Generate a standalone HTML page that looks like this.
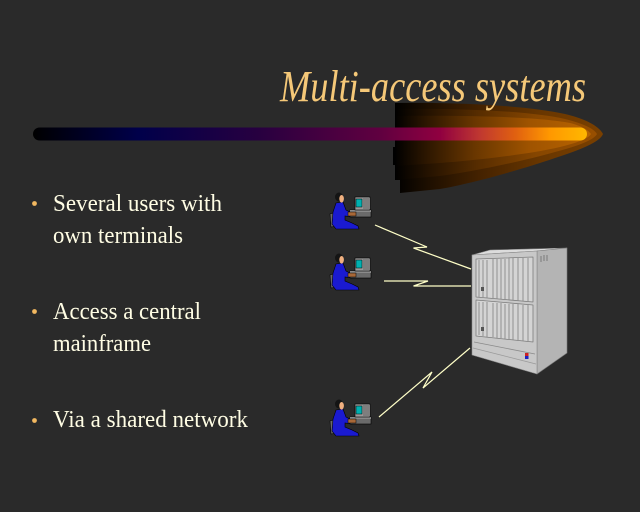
<!DOCTYPE html>
<html><head><meta charset="utf-8"><style>
html,body{margin:0;padding:0;background:#2a2a2a;}
svg{display:block;}
</style></head><body>
<svg width="640" height="512" viewBox="0 0 640 512" xmlns="http://www.w3.org/2000/svg">
<defs>
<linearGradient id="gOut" gradientUnits="userSpaceOnUse" x1="395" y1="0" x2="605" y2="0">
 <stop offset="0" stop-color="#000"/><stop offset="0.15" stop-color="#1c0e00"/><stop offset="0.4" stop-color="#442200"/><stop offset="0.69" stop-color="#683600"/><stop offset="1" stop-color="#7a4000"/>
</linearGradient>
<linearGradient id="gMid" gradientUnits="userSpaceOnUse" x1="395" y1="0" x2="600" y2="0">
 <stop offset="0" stop-color="#000"/><stop offset="0.15" stop-color="#221100"/><stop offset="0.4" stop-color="#562c00"/><stop offset="0.69" stop-color="#864600"/><stop offset="1" stop-color="#9a5000"/>
</linearGradient>
<linearGradient id="gIn" gradientUnits="userSpaceOnUse" x1="395" y1="0" x2="592" y2="0">
 <stop offset="0" stop-color="#000"/><stop offset="0.15" stop-color="#2a1500"/><stop offset="0.4" stop-color="#683600"/><stop offset="0.69" stop-color="#a05400"/><stop offset="1" stop-color="#b86400"/>
</linearGradient>
<linearGradient id="gBar" gradientUnits="userSpaceOnUse" x1="33" y1="0" x2="587" y2="0">
 <stop offset="0" stop-color="#000000"/>
 <stop offset="0.19" stop-color="#00004a"/>
 <stop offset="0.41" stop-color="#280040"/>
 <stop offset="0.626" stop-color="#600040"/>
 <stop offset="0.735" stop-color="#900040"/>
 <stop offset="0.807" stop-color="#c03830"/>
 <stop offset="0.87" stop-color="#e06010"/>
 <stop offset="0.933" stop-color="#ff9800"/>
 <stop offset="1" stop-color="#ffb800"/>
</linearGradient>
<g id="user">
 <path d="M2,24 L8,22 L9,36 L3,37 Z" fill="#6a6a6a" stroke="#000" stroke-width="0.6"/>
 <path d="M8,13 L15,12 L18,20 L24,23 L24,27 L17,26 L17,30 L24,33 L30,36 L31,39 L8,39 L4,34 L5,22 Z" fill="#1a1ad0" stroke="#000" stroke-width="0.6"/>
 <ellipse cx="11" cy="7" rx="4" ry="4.5" fill="#141414"/>
 <ellipse cx="13.6" cy="8.8" rx="2.3" ry="3.8" fill="#f0b080"/>
 <rect x="22" y="20" width="21" height="7" fill="#6a6a6a" stroke="#000" stroke-width="0.6"/>
 <rect x="22" y="20" width="21" height="2" fill="#8a8a8a"/>
 <rect x="27" y="7" width="15" height="13" fill="#9a9a9a" stroke="#000" stroke-width="0.6"/>
 <rect x="35" y="8" width="7" height="11" fill="#7e7e7e"/>
 <rect x="28" y="9" width="6" height="8" fill="#00b0b0" stroke="#000" stroke-width="0.5"/>
 <rect x="20" y="22" width="8" height="4" fill="#a86838" stroke="#000" stroke-width="0.5"/>
</g>
</defs>
<rect width="640" height="512" fill="#2a2a2a"/>

<!-- glow -->
<path d="M395,103 C460,102 530,106 565,114 C590,120 600,128 603,134 C600,142 580,150 555,158 C520,170 470,184 440,189 L400,193 L400,180 L395,180 L395,165 L393,165 L393,147 L395,147 Z" fill="url(#gOut)"/>
<path d="M395,109 C460,108 530,111 565,119 C585,124 594,129 597,134 C594,140 578,146 555,152 C520,162 470,172 440,176 L395,180 Z" fill="url(#gMid)"/>
<path d="M395,116 C470,115 540,117 570,123 C582,126 588,130 591,134 C588,139 576,143 560,147 C530,154 480,160 440,163 L395,166 Z" fill="url(#gIn)"/>

<!-- bar -->
<rect x="33" y="127.5" width="554" height="13" rx="6.5" fill="url(#gBar)"/>

<!-- title -->
<text x="280" y="101" font-family="Liberation Serif, serif" font-style="italic" font-size="44" fill="#f5c878" textLength="306" lengthAdjust="spacingAndGlyphs">Multi-access systems</text>

<!-- bullets -->
<g fill="#f2b860">
 <circle cx="34.5" cy="203.5" r="2.4"/>
 <circle cx="34.5" cy="311.5" r="2.4"/>
 <circle cx="34.5" cy="420.5" r="2.4"/>
</g>
<g font-family="Liberation Serif, serif" font-size="24" fill="#fffde4">
 <text x="53" y="211" textLength="169" lengthAdjust="spacingAndGlyphs">Several users with</text>
 <text x="53" y="243" textLength="130" lengthAdjust="spacingAndGlyphs">own terminals</text>
 <text x="53" y="319" textLength="148" lengthAdjust="spacingAndGlyphs">Access a central</text>
 <text x="53" y="351" textLength="98" lengthAdjust="spacingAndGlyphs">mainframe</text>
 <text x="53" y="427" textLength="195" lengthAdjust="spacingAndGlyphs">Via a shared network</text>
</g>

<!-- users -->
<use href="#user" x="328" y="190"/>
<use href="#user" x="328" y="251"/>
<use href="#user" x="328" y="397"/>

<!-- lightning links -->
<g fill="none" stroke="#ffffc8" stroke-width="1.2">
 <polyline points="375,225 427,247 413.5,248 471,269"/>
 <polyline points="384,281 428,281 413.5,286 471,286"/>
 <polyline points="379,417 432,372 423,388 470,348"/>
</g>

<!-- mainframe -->
<g stroke-linejoin="round">
 <polygon points="472,255 490,250 567,248 537,251" fill="#dcdcdc" stroke="#8a8a8a" stroke-width="0.6"/>
 <polygon points="537,251 567,248 567,353 537,374" fill="#b4b4b4" stroke="#7a7a7a" stroke-width="0.6"/>
 <polygon points="472,255 537,251 537,374 472,355" fill="#c8c8c8" stroke="#8a8a8a" stroke-width="0.6"/>
 <line x1="541" y1="256" x2="541" y2="262" stroke="#7a7a7a"/>
 <line x1="544" y1="255" x2="544" y2="261" stroke="#7a7a7a"/>
 <line x1="547" y1="255" x2="547" y2="261" stroke="#7a7a7a"/>
 <polygon points="476,259 533,257 533,302 476,297" fill="#d4d4d4" stroke="#7c7c7c" stroke-width="0.8"/>
 <polygon points="476,300 533,305 533,342 476,336" fill="#d4d4d4" stroke="#7c7c7c" stroke-width="0.8"/>
 <g stroke="#8a8a8a" stroke-width="0.9">
  <line x1="479" y1="260" x2="479" y2="297"/><line x1="483" y1="260" x2="483" y2="297"/>
  <line x1="487" y1="260" x2="487" y2="298"/><line x1="493" y1="259" x2="493" y2="298"/>
  <line x1="497" y1="259" x2="497" y2="299"/><line x1="501" y1="259" x2="501" y2="299"/>
  <line x1="505" y1="259" x2="505" y2="300"/><line x1="509" y1="258" x2="509" y2="300"/>
  <line x1="513" y1="258" x2="513" y2="300"/><line x1="518" y1="258" x2="518" y2="301"/>
  <line x1="523" y1="258" x2="523" y2="301"/><line x1="528" y1="258" x2="528" y2="302"/>
  <line x1="479" y1="302" x2="479" y2="335"/><line x1="483" y1="302" x2="483" y2="336"/>
  <line x1="487" y1="302" x2="487" y2="337"/><line x1="493" y1="303" x2="493" y2="337"/>
  <line x1="497" y1="303" x2="497" y2="338"/><line x1="501" y1="303" x2="501" y2="338"/>
  <line x1="505" y1="304" x2="505" y2="339"/><line x1="509" y1="304" x2="509" y2="339"/>
  <line x1="513" y1="304" x2="513" y2="340"/><line x1="518" y1="304" x2="518" y2="340"/>
  <line x1="523" y1="305" x2="523" y2="341"/><line x1="528" y1="305" x2="528" y2="341"/>
 </g>
 <rect x="481" y="287" width="3" height="4" fill="#555"/>
 <rect x="481" y="327" width="3" height="4" fill="#555"/>
 <line x1="474" y1="342" x2="535" y2="354" stroke="#8a8a8a" stroke-width="0.8"/>
 <line x1="473" y1="348" x2="536" y2="364" stroke="#9a9a9a" stroke-width="0.8"/>
 <rect x="525" y="353" width="3.5" height="3" fill="#d02020"/>
 <rect x="525" y="356" width="3.5" height="3" fill="#2020c0"/>
</g>
</svg>
</body></html>
